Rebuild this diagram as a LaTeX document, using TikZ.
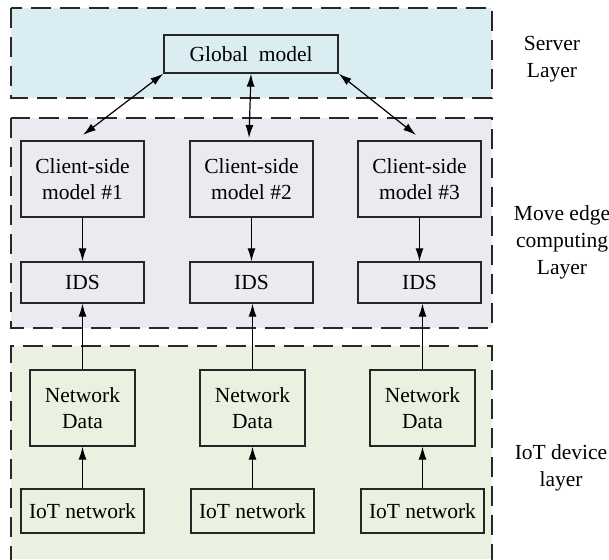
\documentclass[tikz,border=0pt]{standalone}
\usepackage{fontspec}
\setmainfont{Liberation Serif}
\usetikzlibrary{arrows.meta}
\definecolor{serverfill}{RGB}{218,237,243}
\definecolor{edgefill}{RGB}{236,233,241}
\definecolor{iotfill}{RGB}{235,241,224}
\definecolor{dashcol}{RGB}{40,40,40}
\tikzset{
  layerbox/.style={draw=dashcol, line width=1.5pt, dash pattern=on 20pt off 9pt},
  blk/.style={draw=black!85, line width=1.3pt, minimum width=123pt, align=center, inner sep=0pt,
    font=\fontsize{21.5}{26}\selectfont},
  lbl/.style={align=center, font=\fontsize{21.5}{27}\selectfont},
  arr/.style={line width=1.2pt, -{Latex[length=13pt,width=8pt]}},
  darr/.style={line width=1.2pt, {Latex[length=13pt,width=8pt]}-{Latex[length=13pt,width=8pt]}}
}
\begin{document}
\begin{tikzpicture}[x=1pt,y=-1pt]
\useasboundingbox (0,0) rectangle (609,559);
% layers
\path[fill=serverfill] (11,8) rectangle (492,98);
\draw[layerbox] (11,8) rectangle (492,98);
\path[fill=edgefill] (11,118) rectangle (492,328);
\draw[layerbox] (11,118) rectangle (492,328);
\path[fill=iotfill] (11,346) rectangle (492,559);
\draw[layerbox] (11,566) -- (11,346) -- (492,346) -- (492,566);
% server
\node[blk, minimum width=174pt, minimum height=38pt] (gm) at (251,54) {Global\ \ model};
% clients
\foreach \i/\x in {1/82.5,2/251.5,3/419.5}{
  \node[blk, minimum height=76pt] (c\i) at (\x,179) {Client-side\\model \#\i};
  \node[blk, minimum height=41pt] (ids\i) at (\x,282.5) {IDS};
  \draw[arr] (c\i.south) -- (ids\i.north);
}
\foreach \i/\x in {1/82.5,2/252.5,3/422.5}{
  \node[blk, minimum width=105pt, minimum height=76pt] (nd\i) at (\x,408) {Network\\Data};
  \node[blk, minimum height=44pt] (iot\i) at (\x,511) {IoT network};
  \draw[arr] (iot\i.north) -- (nd\i.south);
  \draw[arr] (nd\i.north) -- (nd\i.north |- ids\i.south);
}
% server arrows
\coordinate (t1) at (83,135);
\coordinate (t2) at (249,138);
\coordinate (t3) at (416,135);
\draw[darr] (gm.south west) -- (t1);
\draw[darr] (gm.south) -- (t2);
\draw[darr] (gm.south east) -- (t3);
% labels
\node[lbl] (ls) at (552,59) {Server\\Layer};
\node[lbl] (le) at (562,242) {Move edge\\computing\\Layer};
\node[lbl] (li) at (561,468) {IoT device\\layer};
\end{tikzpicture}
\end{document}
